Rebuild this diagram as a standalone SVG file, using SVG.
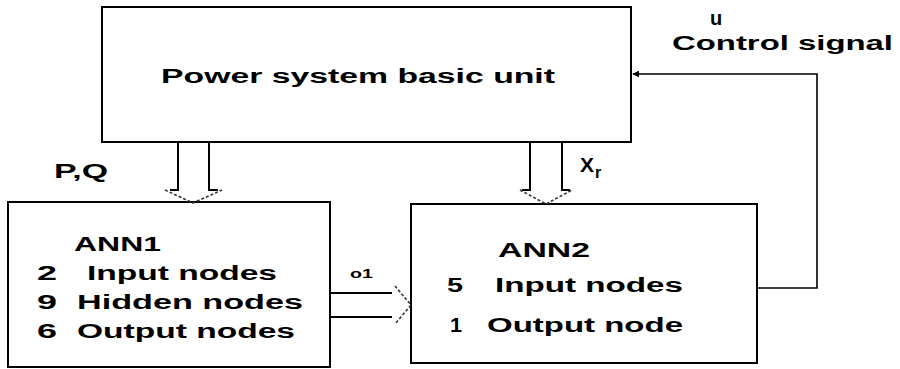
<svg xmlns="http://www.w3.org/2000/svg" width="900" height="369" viewBox="0 0 900 369">
<defs>
<style>
.box{fill:#fff;stroke:#000;stroke-width:2}
.ln{fill:none;stroke:#000;stroke-width:2}
.fb{fill:none;stroke:#000;stroke-width:1.6}
.hd{fill:none;stroke:#334;stroke-width:1.6;stroke-dasharray:3 2}
text{font-family:"Liberation Sans",Arial,sans-serif;font-weight:bold;fill:#000}
.t{font-size:20px}
</style>
<marker id="ah" viewBox="0 0 10 10" refX="9" refY="5" markerWidth="7" markerHeight="7" orient="auto" markerUnits="userSpaceOnUse"><path d="M0,0 L10,5 L0,10 z" fill="#000"/></marker>
</defs>
<rect width="900" height="369" fill="#fff"/>
<g id="power">
<rect class="box" x="102" y="7" width="529" height="135"/>
<text class="t" x="161" y="83" textLength="394" lengthAdjust="spacingAndGlyphs">Power system basic unit</text>
</g>
<g id="ann1">
<rect class="box" x="8" y="202" width="322" height="165"/>
<text class="t" x="74" y="251" textLength="87" lengthAdjust="spacingAndGlyphs">ANN1</text>
<text class="t" x="37" y="280" textLength="20" lengthAdjust="spacingAndGlyphs">2</text>
<text class="t" x="87" y="280" textLength="190" lengthAdjust="spacingAndGlyphs">Input nodes</text>
<text class="t" x="37" y="309" textLength="20" lengthAdjust="spacingAndGlyphs">9</text>
<text class="t" x="77" y="309" textLength="226" lengthAdjust="spacingAndGlyphs">Hidden nodes</text>
<text class="t" x="37" y="338" textLength="20" lengthAdjust="spacingAndGlyphs">6</text>
<text class="t" x="77" y="338" textLength="218" lengthAdjust="spacingAndGlyphs">Output nodes</text>
</g>
<g id="ann2">
<rect class="box" x="411" y="204" width="346" height="159"/>
<text class="t" x="498" y="257" textLength="92" lengthAdjust="spacingAndGlyphs">ANN2</text>
<text class="t" x="447" y="292" textLength="16" lengthAdjust="spacingAndGlyphs">5</text>
<text class="t" x="495" y="292" textLength="188" lengthAdjust="spacingAndGlyphs">Input nodes</text>
<text class="t" x="450" y="332" textLength="12" lengthAdjust="spacingAndGlyphs">1</text>
<text class="t" x="487" y="332" textLength="196" lengthAdjust="spacingAndGlyphs">Output node</text>
</g>
<g id="connectors">
<path class="ln" d="M178,142 V190 H170 M209,142 V190 H218"/>
<path class="hd" d="M165,190 L193,203 L222,190"/>
<path class="ln" d="M530,142 V190 H522 M562,142 V190 H570"/>
<path class="hd" d="M520,190 L546,204 L572,190"/>
<path class="ln" d="M330,293 H392 M330,317 H392"/>
<path class="hd" d="M395,286 L411,305 L395,324"/>
<path class="fb" d="M757,288 H817 V74 H633" marker-end="url(#ah)"/>
<text class="t" x="54" y="178" textLength="54" lengthAdjust="spacingAndGlyphs">P,Q</text>
<text x="580" y="172" font-size="21">X</text>
<text x="595" y="178" font-size="16">r</text>
<text x="350" y="278" font-size="12" textLength="23" lengthAdjust="spacingAndGlyphs">o1</text>
<text class="t" x="710" y="25">u</text>
<text class="t" x="672" y="50" textLength="221" lengthAdjust="spacingAndGlyphs">Control signal</text>
</g>
</svg>
